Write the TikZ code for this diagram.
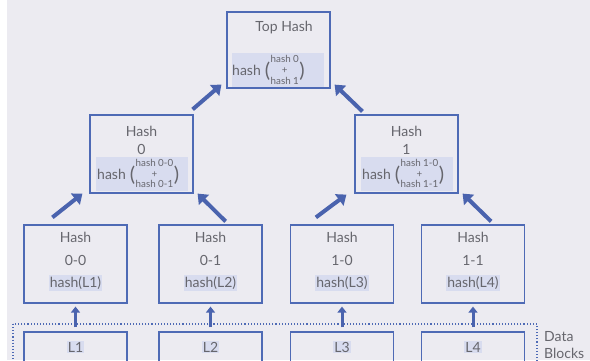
\documentclass[tikz,border=0pt]{standalone}
\usepackage{fontspec}
\setmainfont{Lato}
\usetikzlibrary{arrows.meta,calc}
\definecolor{bggray}{HTML}{ECEBF1}
\definecolor{boxblue}{HTML}{4E6AB5}
\definecolor{arrblue}{HTML}{4A63AE}
\definecolor{hlfill}{HTML}{D8DCEF}
\definecolor{txtgray}{HTML}{66666D}
\newcommand\hashstack[2]{hash\hspace{4pt}\raisebox{-2pt}{\fontsize{20}{20}\selectfont(}\hspace{0.5pt}\raisebox{1.5pt}{\fontsize{9.8}{10.8}\selectfont\begin{tabular}{@{}c@{}}#1\\+\\#2\end{tabular}}\hspace{0.5pt}\raisebox{-2pt}{\fontsize{20}{20}\selectfont)}}
\begin{document}
\begin{tikzpicture}[x=1pt,y=1pt,
  hbox/.style={draw=boxblue,line width=1.2pt,minimum width=103pt,minimum height=78pt,inner sep=0pt},
  lbl/.style={text=txtgray,font=\fontsize{14}{17}\selectfont,inner sep=0pt},
  hlbox/.style={fill=hlfill,inner sep=0pt,minimum width=92pt,minimum height=34pt},
  hltxt/.style={lbl,fill=hlfill,inner sep=1.2pt},
  bigarrow/.style={draw=arrblue,line width=4pt,-{Triangle[length=9pt,width=14pt]}},
  uparrow/.style={draw=arrblue,line width=3pt,-{Triangle[length=6pt,width=9pt]}},
  dotbox/.style={draw=boxblue,line width=1.1pt,dash pattern=on 1.1pt off 2pt}]
\useasboundingbox (0,0) rectangle (590,360);
\fill[white] (0,0) rectangle (590,360);
\fill[bggray] (7,0) rectangle (590,360);
\clip (0,0) rectangle (590,360);

% top
\node[hlbox,minimum height=35pt] (tophl) at (278,289.5) {};
\node[hbox,minimum height=76pt] (top) at (278.5,310) {};
\node[lbl] (toplbl) at (284,332) {Top Hash};
\node[lbl,anchor=west] (toptxt) at (232,288.5) {\hashstack{hash 0}{hash 1}};

% level 1
\node[hlbox] (h0hl) at (142,186) {};
\node[hbox] (h0) at (141.5,206) {};
\node[lbl] (h0a) at (141.5,229) {Hash};
\node[lbl] (h0b) at (141.5,211) {0};
\node[lbl,anchor=west] (h0t) at (97,185) {\hashstack{hash 0-0}{hash 0-1}};

\node[hlbox] (h1hl) at (407,186) {};
\node[hbox] (h1) at (406.5,206) {};
\node[lbl] (h1a) at (406.5,229) {Hash};
\node[lbl] (h1b) at (406.5,211) {1};
\node[lbl,anchor=west] (h1t) at (362,185) {\hashstack{hash 1-0}{hash 1-1}};

% level 2
\node[hbox] (b00) at (75.5,96) {};
\node[hbox] (b01) at (210.5,96) {};
\node[hbox] (b10) at (342,96) {};
\node[hbox] (b11) at (473,96) {};
\foreach \n/\a/\l in {b00/0-0/L1,b01/0-1/L2,b10/1-0/L3,b11/1-1/L4}{
  \node[lbl] (\n h) at ($(\n.center)+(0,27)$) {Hash};
  \node[lbl] (\n n) at ($(\n.center)+(0,4)$) {\a};
  \node[hltxt] (\n x) at ($(\n.center)+(0,-19)$) {hash(\l)};
}

% data blocks
\draw[dotbox] (13,36) rectangle (537,-60);
\node[lbl,anchor=west,align=left] (db) at (544,14.5) {Data\\Blocks};
\node[hbox] (l1) at (75.5,-11) {};
\node[hbox] (l2) at (210.5,-11) {};
\node[hbox] (l3) at (342,-11) {};
\node[hbox] (l4) at (473,-11) {};
\foreach \n/\l in {l1/L1,l2/L2,l3/L3,l4/L4}{
  \node[hltxt] (\n t) at ($(\n.center)+(0,24)$) {\l};
}

% arrows
\draw[uparrow] ($(l1.north)+(0,4)$) -- ($(b00.south)+(0,-3)$);
\draw[uparrow] ($(l2.north)+(0,4)$) -- ($(b01.south)+(0,-3)$);
\draw[uparrow] ($(l3.north)+(0,4)$) -- ($(b10.south)+(0,-3)$);
\draw[uparrow] ($(l4.north)+(0,4)$) -- ($(b11.south)+(0,-3)$);

\draw[bigarrow] ($(b00.north west)+(29,7)$) -- ($(h0.south west)+(-7,0)$);
\draw[bigarrow] ($(b01.north east)+(-37,3)$) -- ($(h0.south east)+(4,0)$);
\draw[bigarrow] ($(b10.north west)+(26,7)$) -- ($(h1.south west)+(-8,-1)$);
\draw[bigarrow] ($(b11.north east)+(-34,3)$) -- ($(h1.south east)+(4,0)$);

\draw[bigarrow] ($(h0.north east)+(-1,5)$) -- ($(top.south west)+(-5,4)$);
\draw[bigarrow] ($(h1.north west)+(8,3)$) -- ($(top.south east)+(4,4)$);
\end{tikzpicture}
\end{document}
